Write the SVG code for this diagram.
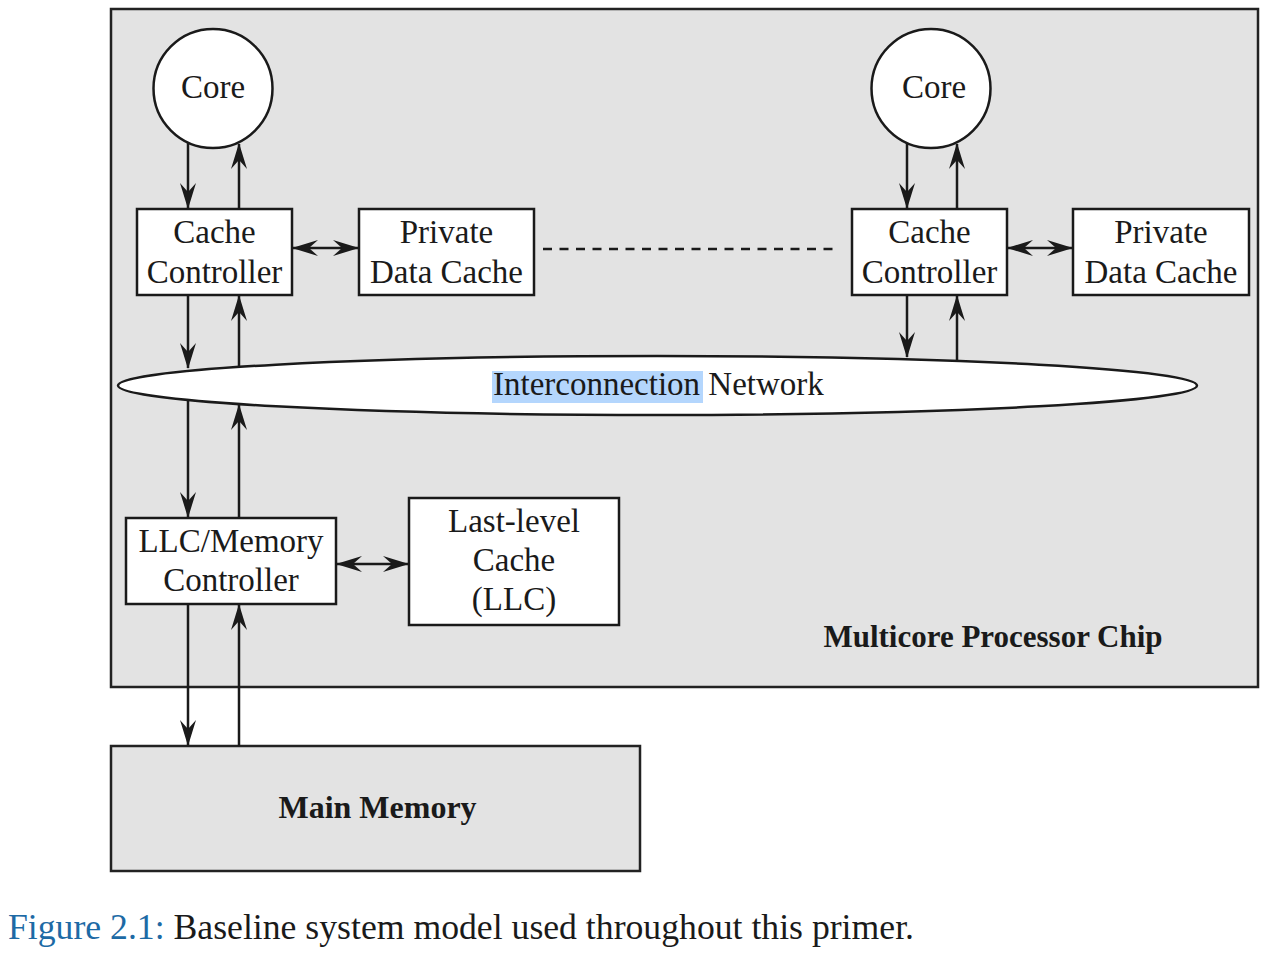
<svg xmlns="http://www.w3.org/2000/svg" width="1288" height="964" viewBox="0 0 1288 964">
<style>
  .frame { fill: #e3e3e3; stroke: #222; stroke-width: 2.5; }
  .box { fill: #ffffff; stroke: #1a1a1a; stroke-width: 2.5; }
  .lbl { font-family: "Liberation Serif", "Times New Roman", serif; font-size: 33px; fill: #1a1a1a; text-anchor: middle; }
  .bold { font-family: "Liberation Serif", "Times New Roman", serif; font-weight: bold; fill: #1a1a1a; text-anchor: middle; }
  .conn line { stroke: #1a1a1a; stroke-width: 2.5; fill: none; }
  .one { marker-end: url(#ah); }
  .two { marker-start: url(#ah); marker-end: url(#ah); }
  .dash { stroke-dasharray: 9 7.5; }
  .cap { font-family: "Liberation Serif", "Times New Roman", serif; font-size: 35.7px; fill: #1a1a1a; }
</style>
<defs>
  <marker id="ah" viewBox="0 0 26 16" refX="25" refY="8" markerWidth="26" markerHeight="16" markerUnits="userSpaceOnUse" orient="auto-start-reverse">
    <path d="M0,0 L26,8 L0,16 L9,8 Z" fill="#1a1a1a"/>
  </marker>
</defs>
<rect width="1288" height="964" fill="#ffffff"/>

<g id="chip">
  <rect class="frame" x="111" y="9" width="1147" height="678"/>
  <text class="bold" x="993" y="647" font-size="31">Multicore Processor Chip</text>
</g>

<g id="main-memory">
  <rect class="frame" x="111" y="746" width="529" height="125"/>
  <text class="bold" x="377.5" y="818" font-size="32">Main Memory</text>
</g>

<g id="network">
  <ellipse class="box" cx="657.5" cy="385.5" rx="539.5" ry="29.5"/>
  <rect x="492" y="371" width="211" height="32" fill="#b4d6fd"/>
  <text class="lbl" x="493" y="395" style="text-anchor:start">Interconnection Network</text>
</g>

<g id="core-left">
  <circle class="box" cx="213" cy="88.5" r="59.5"/>
  <text class="lbl" x="213" y="98">Core</text>
</g>
<g id="cache-controller-left">
  <rect class="box" x="137" y="209" width="155" height="86"/>
  <text class="lbl" x="214.5" y="243">Cache</text>
  <text class="lbl" x="214.5" y="283">Controller</text>
</g>
<g id="private-cache-left">
  <rect class="box" x="359" y="209" width="175" height="86"/>
  <text class="lbl" x="446.5" y="243">Private</text>
  <text class="lbl" x="446.5" y="283">Data Cache</text>
</g>

<g id="core-right">
  <circle class="box" cx="931" cy="88.5" r="59.5"/>
  <text class="lbl" x="934" y="98">Core</text>
</g>
<g id="cache-controller-right">
  <rect class="box" x="852" y="209" width="155" height="86"/>
  <text class="lbl" x="929.5" y="243">Cache</text>
  <text class="lbl" x="929.5" y="283">Controller</text>
</g>
<g id="private-cache-right">
  <rect class="box" x="1073" y="209" width="176" height="86"/>
  <text class="lbl" x="1161" y="243">Private</text>
  <text class="lbl" x="1161" y="283">Data Cache</text>
</g>

<g id="llc-controller">
  <rect class="box" x="126" y="518" width="210" height="86"/>
  <text class="lbl" x="231" y="552">LLC/Memory</text>
  <text class="lbl" x="231" y="591">Controller</text>
</g>
<g id="llc">
  <rect class="box" x="409" y="498" width="210" height="127"/>
  <text class="lbl" x="514" y="532">Last-level</text>
  <text class="lbl" x="514" y="571">Cache</text>
  <text class="lbl" x="514" y="610">(LLC)</text>
</g>

<g id="connectors" class="conn">
  <line class="one" x1="188" y1="143" x2="188" y2="208"/>
  <line class="one" x1="239" y1="209" x2="239" y2="144"/>
  <line class="one" x1="188" y1="295" x2="188" y2="368"/>
  <line class="one" x1="239" y1="367" x2="239" y2="296"/>
  <line class="one" x1="188" y1="400" x2="188" y2="517"/>
  <line class="one" x1="239" y1="518" x2="239" y2="405"/>
  <line class="one" x1="188" y1="604" x2="188" y2="745"/>
  <line class="one" x1="239" y1="746" x2="239" y2="605"/>
  <line class="one" x1="907" y1="143" x2="907" y2="208"/>
  <line class="one" x1="957" y1="209" x2="957" y2="144"/>
  <line class="one" x1="907" y1="295" x2="907" y2="357"/>
  <line class="one" x1="957" y1="360" x2="957" y2="296"/>
  <line class="two" x1="293" y1="248" x2="358" y2="248"/>
  <line class="two" x1="1008" y1="248" x2="1072" y2="248"/>
  <line class="two" x1="337" y1="564" x2="408" y2="564"/>
  <line class="dash" x1="543" y1="249" x2="838" y2="249"/>
</g>

<g id="caption">
  <text class="cap" x="8" y="939"><tspan fill="#1d6aa5">Figure 2.1:</tspan> Baseline system model used throughout this primer.</text>
</g>
</svg>
